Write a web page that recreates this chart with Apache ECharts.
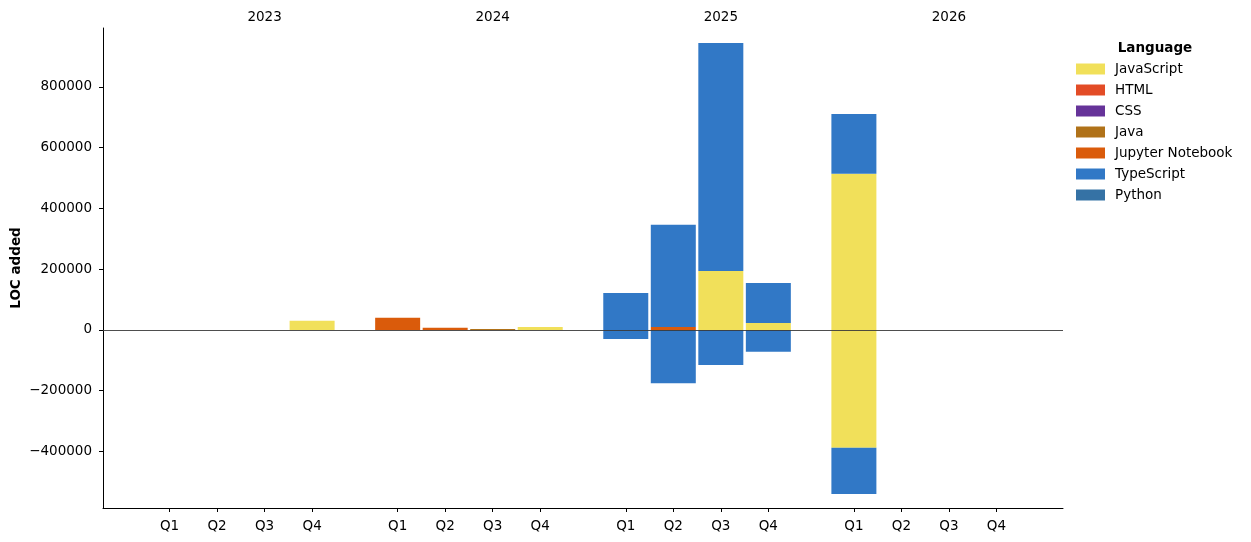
<!DOCTYPE html>
<html><head><meta charset="utf-8">
<script src="https://cdn.jsdelivr.net/npm/echarts@6/dist/echarts.min.js"></script>
<style>html,body{margin:0;padding:0;background:#fff}#c{width:1251px;height:542px}</style>
</head><body><div id="c"></div>
<script>
const years = ['2023', '2024', '2025', '2026'];
const quarters = ['Q1', 'Q2', 'Q3', 'Q4'];
const yTicks = [-400000, -200000, 0, 200000, 400000, 600000, 800000];
const languages = ['JavaScript', 'HTML', 'CSS', 'Java', 'Jupyter Notebook', 'TypeScript', 'Python'];

// LOC added per quarter (2023 Q1 .. 2026 Q4), positive and negative parts
const javascriptPos = [0, 0, 0, 30000, 0, 0, 0, 10000, 0, 0, 194000, 23000, 514000, 0, 0, 0];
const javascriptNeg = [0, 0, 0, 0, 0, 0, 0, 0, 0, 0, 0, 0, -388000, 0, 0, 0];
const htmlPos = [0, 0, 0, 0, 0, 0, 0, 0, 0, 0, 0, 0, 0, 0, 0, 0];
const htmlNeg = [0, 0, 0, 0, 0, 0, 0, 0, 0, 0, 0, 0, 0, 0, 0, 0];
const cssPos = [0, 0, 0, 0, 0, 0, 0, 0, 0, 0, 0, 0, 0, 0, 0, 0];
const cssNeg = [0, 0, 0, 0, 0, 0, 0, 0, 0, 0, 0, 0, 0, 0, 0, 0];
const javaPos = [0, 0, 0, 0, 0, 0, 3000, 0, 0, 0, 0, 0, 0, 0, 0, 0];
const javaNeg = [0, 0, 0, 0, 0, 0, 0, 0, 0, 0, 0, 0, 0, 0, 0, 0];
const jupyterPos = [0, 0, 0, 0, 40000, 7000, 0, 0, 0, 10000, 0, 0, 0, 0, 0, 0];
const jupyterNeg = [0, 0, 0, 0, 0, 0, 0, 0, 0, 0, 0, 0, 0, 0, 0, 0];
const typescriptPos = [0, 0, 0, 0, 0, 0, 0, 0, 122000, 336000, 751000, 132000, 197000, 0, 0, 0];
const typescriptNeg = [0, 0, 0, 0, 0, 0, 0, 0, -30000, -175000, -115000, -72000, -152000, 0, 0, 0];
const pythonPos = [0, 0, 0, 0, 0, 0, 0, 0, 0, 0, 0, 0, 0, 0, 0, 0];
const pythonNeg = [0, 0, 0, 0, 0, 0, 0, 0, 0, 0, 0, 0, 0, 0, 0, 0];

const seriesValues = {
  'JavaScript': [javascriptPos, javascriptNeg],
  'HTML': [htmlPos, htmlNeg],
  'CSS': [cssPos, cssNeg],
  'Java': [javaPos, javaNeg],
  'Jupyter Notebook': [jupyterPos, jupyterNeg],
  'TypeScript': [typescriptPos, typescriptNeg],
  'Python': [pythonPos, pythonNeg]
};
const colors = {
  'JavaScript': '#f1e05a', 'HTML': '#e34c26', 'CSS': '#663399', 'Java': '#b07219',
  'Jupyter Notebook': '#da5b0b', 'TypeScript': '#3178c6', 'Python': '#3572a5'
};

// layout: a fine category grid of 0.1 quarter-units; quarters 1 unit apart, 0.8 unit gap between years
const STEPS = 10, LEAD = 14, TOTAL = 203, GROUP = 4.8;
const slots = [];
for (let i = 0; i < TOTAL; i++) slots.push('s' + i);
const quarterSlot = [];
years.forEach((y, yi) => quarters.forEach((q, qi) => quarterSlot.push(LEAD + Math.round((yi * GROUP + qi) * STEPS))));
const yearSlot = years.map((y, yi) => LEAD + Math.round((yi * GROUP + 2) * STEPS));
const quarterAt = {}; quarterSlot.forEach((s, i) => { quarterAt[s] = quarters[i % 4]; });
const yearAt = {}; yearSlot.forEach((s, i) => { yearAt[s] = years[i]; });

const FONT = 'DejaVu Sans';
const FS = 13.5;
const series = [];
languages.forEach(lang => {
  seriesValues[lang].forEach(vals => {
    const full = new Array(TOTAL).fill(null);
    vals.forEach((v, i) => { full[quarterSlot[i]] = v; });
    series.push({
      name: lang, type: 'bar', stack: 'loc', barWidth: 45,
      itemStyle: { color: colors[lang] },
      data: full
    });
  });
});
series.push({
  type: 'line', data: [], z: 10, silent: true,
  markLine: {
    silent: true, symbol: 'none', label: { show: false },
    lineStyle: { color: '#3a3a3a', width: 0.9, type: 'solid' },
    data: [{ yAxis: 0 }]
  }
});

const chart = echarts.init(document.getElementById('c'), null, { renderer: 'canvas' });
chart.setOption({
  animation: false,
  backgroundColor: '#fff',
  textStyle: { fontFamily: FONT },
  grid: { left: 103, right: 188, top: 28, bottom: 34, containLabel: false, outerBoundsMode: 'none' },
  title: {
    text: 'Language', left: 1155, top: 41, textAlign: 'center', padding: 0,
    textStyle: { fontFamily: FONT, fontSize: FS, fontWeight: 'bold', color: '#000' }
  },
  legend: {
    orient: 'vertical', left: 1076, top: 62, padding: 0, itemWidth: 29, itemHeight: 11, itemGap: 7,
    data: languages, icon: 'rect',
    textStyle: { fontFamily: FONT, fontSize: FS, color: '#000', lineHeight: 14, padding: [0, 0, 0, 5] }
  },
  xAxis: [{
    type: 'category', position: 'bottom', data: slots, boundaryGap: false,
    splitLine: { show: false },
    axisLine: { show: true, onZero: false, lineStyle: { color: '#000', width: 1 } },
    axisTick: { show: true, interval: (i) => quarterAt[i] !== undefined, length: 4, lineStyle: { color: '#000', width: 1 } },
    axisLabel: {
      interval: (i) => quarterAt[i] !== undefined, margin: 11, color: '#000', fontFamily: FONT, fontSize: FS,
      formatter: (v, i) => quarterAt[i] || ''
    }
  }, {
    type: 'category', position: 'top', data: slots, boundaryGap: false,
    splitLine: { show: false },
    axisLine: { show: false }, axisTick: { show: false },
    axisLabel: {
      interval: (i) => yearAt[i] !== undefined, margin: 4, color: '#000', fontFamily: FONT, fontSize: FS,
      formatter: (v, i) => yearAt[i] || ''
    }
  }],
  yAxis: {
    type: 'value', min: -586000, max: 994000,
    name: 'LOC added', nameLocation: 'middle', nameGap: 80, nameMoveOverlap: false,
    nameTextStyle: { fontFamily: FONT, fontSize: FS, fontWeight: 'bold', color: '#000' },
    splitLine: { show: false },
    axisLine: { show: true, onZero: false, lineStyle: { color: '#000', width: 1 } },
    axisTick: { show: true, customValues: yTicks, length: 4, lineStyle: { color: '#000', width: 1 } },
    axisLabel: {
      customValues: yTicks, margin: 11, color: '#000', fontFamily: FONT, fontSize: FS, padding: [5, 0, 0, 0],
      formatter: v => v < 0 ? '\u2212' + Math.abs(v) : String(v)
    }
  },
  series: series
});
</script></body></html>
